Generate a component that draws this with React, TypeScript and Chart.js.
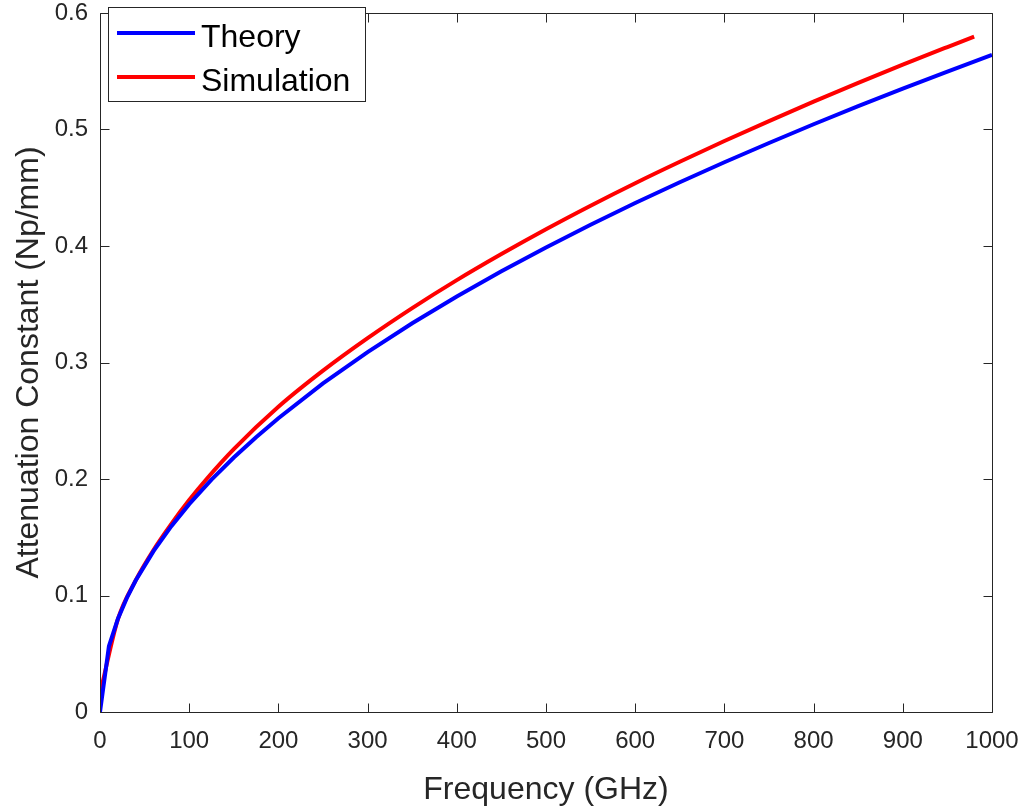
import React, { useEffect, useRef } from 'react';
import { Chart, registerables } from 'chart.js';

Chart.register(...registerables);

// Frequency (GHz) samples of the theory curve
const theoryFreq = [0, 10, 20, 30, 40, 60, 80, 100, 125, 150, 175, 200, 250, 300, 350, 400, 450, 500, 550, 600, 650, 700, 750, 800, 850, 900, 950, 1000];
// Attenuation constant (Np/mm), theory
const theoryValues = [0, 0.0564, 0.0798, 0.0977, 0.1128, 0.1381, 0.1595, 0.1784, 0.1994, 0.2184, 0.2359, 0.2522, 0.282, 0.3089, 0.3337, 0.3567, 0.3783, 0.3988, 0.4183, 0.4369, 0.4547, 0.4719, 0.4884, 0.5045, 0.52, 0.5351, 0.5497, 0.564];

// Frequency (GHz) samples of the simulation curve
const simFreq = [1, 20, 40, 60, 80, 100, 120, 150, 200, 250, 300, 350, 400, 450, 500, 550, 600, 650, 700, 750, 800, 850, 900, 950, 980];
// Attenuation constant (Np/mm), simulation
const simValues = [0.019, 0.0795, 0.113, 0.1391, 0.1615, 0.1819, 0.2004, 0.2256, 0.262, 0.293, 0.3209, 0.3467, 0.3707, 0.3931, 0.4144, 0.4346, 0.4539, 0.4723, 0.4901, 0.5072, 0.5239, 0.54, 0.5557, 0.5708, 0.5797];

const xTicks = [0, 100, 200, 300, 400, 500, 600, 700, 800, 900, 1000];
const yTicks = [0, 0.1, 0.2, 0.3, 0.4, 0.5, 0.6];

const seriesNames = ['Theory', 'Simulation'];
const seriesColors = ['#0000ff', '#ff0000'];

const FONT = "'Liberation Sans', Arial, Helvetica, sans-serif";
const AXIS_COLOR = '#262626';

const axesPlugin = {
  id: 'matlabAxes',
  afterDraw(chart: any) {
    const { ctx, chartArea } = chart;
    const xs = chart.scales.x;
    const ys = chart.scales.y;
    const l = Math.round(chartArea.left) + 0.5;
    const r = Math.round(chartArea.right) + 0.5;
    const t = Math.round(chartArea.top) + 0.5;
    const b = Math.round(chartArea.bottom) + 0.5;
    const tl = 9;
    ctx.save();
    ctx.strokeStyle = AXIS_COLOR;
    ctx.lineWidth = 1;
    ctx.beginPath();
    ctx.rect(l, t, r - l, b - t);
    for (const v of xTicks) {
      const px = Math.round(xs.getPixelForValue(v)) + 0.5;
      ctx.moveTo(px, b);
      ctx.lineTo(px, b - tl);
      ctx.moveTo(px, t);
      ctx.lineTo(px, t + tl);
    }
    for (const v of yTicks) {
      const py = Math.round(ys.getPixelForValue(v)) + 0.5;
      ctx.moveTo(l, py);
      ctx.lineTo(l + tl, py);
      ctx.moveTo(r, py);
      ctx.lineTo(r - tl, py);
    }
    ctx.stroke();

    // legend box
    const bx = 108.5, by = 7.5, bw = 257, bh = 94;
    ctx.fillStyle = '#ffffff';
    ctx.fillRect(bx, by, bw, bh);
    ctx.strokeStyle = AXIS_COLOR;
    ctx.strokeRect(bx, by, bw, bh);
    const rows = [33, 77];
    ctx.font = `32px ${FONT}`;
    ctx.textAlign = 'left';
    ctx.textBaseline = 'alphabetic';
    seriesNames.forEach((name, i) => {
      ctx.strokeStyle = seriesColors[i];
      ctx.lineWidth = 4;
      ctx.beginPath();
      ctx.moveTo(117, rows[i]);
      ctx.lineTo(195, rows[i]);
      ctx.stroke();
      ctx.fillStyle = '#000000';
      ctx.fillText(name, 201, rows[i] + 14);
    });
    ctx.restore();
  },
};

export default function App() {
  const canvasRef = useRef<HTMLCanvasElement | null>(null);

  useEffect(() => {
    const canvas = canvasRef.current;
    if (!canvas) return;
    const chart = new Chart(canvas, {
      type: 'line',
      data: {
        datasets: [
          {
            label: seriesNames[0],
            data: theoryFreq.map((f, i) => ({ x: f, y: theoryValues[i] })),
            borderColor: seriesColors[0],
            backgroundColor: seriesColors[0],
            borderWidth: 4,
            pointRadius: 0,
            tension: 0,
          },
          {
            label: seriesNames[1],
            data: simFreq.map((f, i) => ({ x: f, y: simValues[i] })),
            borderColor: seriesColors[1],
            backgroundColor: seriesColors[1],
            borderWidth: 4,
            pointRadius: 0,
            cubicInterpolationMode: 'monotone',
          },
        ],
      },
      options: {
        animation: false,
        responsive: false,
        devicePixelRatio: 1,
        layout: { padding: { left: 0, right: 38, top: 13, bottom: 0 } },
        plugins: {
          legend: { display: false },
          tooltip: { enabled: false },
        },
        scales: {
          x: {
            type: 'linear',
            min: 0,
            max: 1000,
            grid: { display: false, drawTicks: false },
            border: { display: false },
            afterFit: (scale: any) => {
              scale.height = 94;
              scale.paddingLeft = 0;
              scale.paddingRight = 0;
              scale.paddingTop = 0;
              scale.paddingBottom = 0;
            },
            afterBuildTicks: (scale: any) => {
              scale.ticks = xTicks.map((v) => ({ value: v }));
            },
            ticks: {
              autoSkip: false,
              maxRotation: 0,
              padding: 17,
              color: AXIS_COLOR,
              font: { family: FONT, size: 24, lineHeight: 1 },
              callback: (v: any) => String(v),
            },
            title: {
              display: true,
              text: 'Frequency (GHz)',
              color: AXIS_COLOR,
              font: { family: FONT, size: 32, lineHeight: 1 },
              padding: { top: 8, bottom: 0 },
            },
          },
          y: {
            type: 'linear',
            min: 0,
            max: 0.6,
            grid: { display: false, drawTicks: false },
            border: { display: false },
            afterFit: (scale: any) => {
              scale.width = 100;
              scale.paddingLeft = 0;
              scale.paddingRight = 0;
              scale.paddingTop = 0;
              scale.paddingBottom = 0;
            },
            afterBuildTicks: (scale: any) => {
              scale.ticks = yTicks.map((v) => ({ value: v }));
            },
            ticks: {
              autoSkip: false,
              padding: 12,
              color: AXIS_COLOR,
              font: { family: FONT, size: 24, lineHeight: 1 },
              callback: (v: any) => (Number(v) === 0 ? '0' : Number(v).toFixed(1)),
            },
            title: {
              display: true,
              text: 'Attenuation Constant (Np/mm)',
              color: AXIS_COLOR,
              font: { family: FONT, size: 32, lineHeight: 1 },
              padding: { top: 13, bottom: 0 },
            },
          },
        },
      },
      plugins: [axesPlugin],
    });
    return () => chart.destroy();
  }, []);

  return (
    <div style={{ position: 'fixed', left: 0, top: 0, width: 1030, height: 806, background: '#ffffff' }}>
      <canvas ref={canvasRef} width={1030} height={806} style={{ width: 1030, height: 806, display: 'block' }} />
    </div>
  );
}
